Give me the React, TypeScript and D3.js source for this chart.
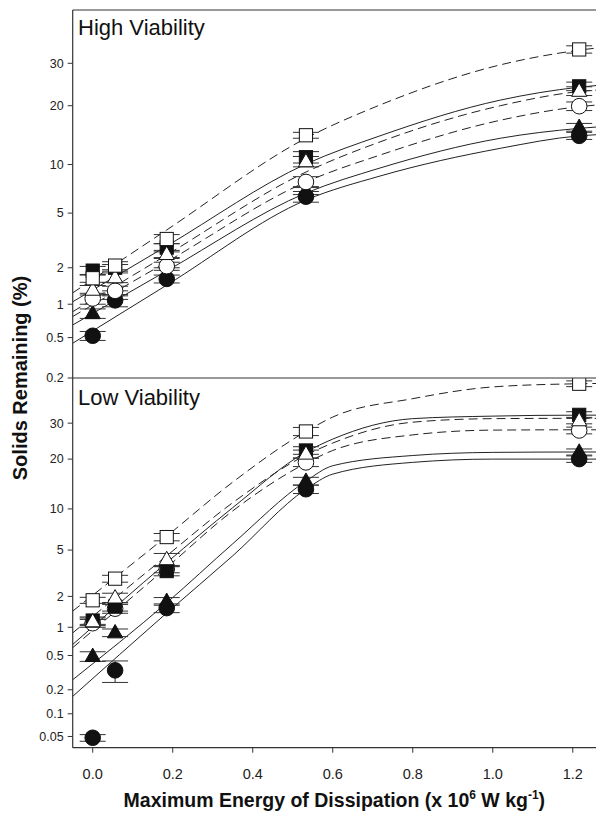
import React from "react";
import * as d3 from "d3";

// ---- data (percent solids remaining) ----
const xValues = [0, 0.056, 0.185, 0.533, 1.216];
const xTicks = [0, 0.2, 0.4, 0.6, 0.8, 1.0, 1.2];
const topTicks = [0.2, 0.5, 1, 2, 5, 10, 20, 30];
const bottomTicks = [0.05, 0.1, 0.2, 0.5, 1, 2, 5, 10, 20, 30];

// High viability points
const hiFilledCircle = [0.52, 1.08, 1.63, 6.4, 14.3];
const hiFilledTriangle = [0.83, 1.2, 2.2, 7.0, 15.8];
const hiOpenCircle = [1.12, 1.3, 2.06, 7.9, 19.9];
const hiFilledSquare = [1.9, 2.0, 2.85, 11.0, 24.3];
const hiOpenTriangle = [1.32, 1.67, 2.54, 10.4, 23.2];
const hiOpenSquare = [1.65, 2.08, 3.3, 14.4, 33.7];
// High viability error (+/-)
const hiErrFilledCircle = [0.05, 0.13, 0.12, 0.5, 0.6];
const hiErrFilledTriangle = [0.08, 0.1, 0.2, 0.4, 0.7];
const hiErrOpenCircle = [0.12, 0.12, 0.15, 0.6, 0.9];
const hiErrFilledSquare = [0.15, 0.12, 0.2, 0.8, 1.0];
const hiErrOpenTriangle = [0.12, 0.15, 0.18, 0.7, 1.0];
const hiErrOpenSquare = [0.12, 0.15, 0.25, 0.5, 1.0];

// Low viability points
const loFilledCircle = [0.048, 0.34, 1.55, 13.4, 20.0];
const loFilledTriangle = [0.49, 0.88, 1.8, 15.0, 21.8];
const loOpenCircle = [1.1, 1.53, 3.5, 19.2, 27.8];
const loFilledSquare = [1.17, 1.6, 3.36, 22.2, 32.6];
const loOpenTriangle = [1.14, 1.94, 4.2, 21.3, 30.8];
const loOpenSquare = [1.84, 2.89, 6.3, 27.5, 43.0];
const loErrFilledCircle = [0.005, 0.095, 0.15, 0.8, 0.8];
const loErrFilledTriangle = [0.06, 0.08, 0.15, 0.8, 0.8];
const loErrOpenCircle = [0.1, 0.15, 0.25, 1.0, 1.0];
const loErrFilledSquare = [0.1, 0.15, 0.3, 1.0, 1.0];
const loErrOpenTriangle = [0.1, 0.2, 0.5, 1.0, 1.0];
const loErrOpenSquare = [0.12, 0.2, 0.4, 1.2, 1.0];

// Fitted curves
const hiCurveX = [-0.05, 0.185, 0.533, 0.718, 1.019, 1.216, 1.26];
const hiCurveOpenSquare = [1.25, 3.83, 13.9, 20.15, 29.6, 33.5, 34.1];
const hiCurveFilledSquare = [1.05, 2.93, 10.07, 14.3, 21.2, 24.1, 24.5];
const hiCurveOpenTriangle = [0.86, 2.51, 9.05, 13.3, 20.0, 23.1, 23.45];
const hiCurveOpenCircle = [0.78, 2.22, 7.9, 11.3, 17.1, 19.8, 20.15];
const hiCurveFilledTriangle = [0.654, 1.89, 6.75, 9.55, 13.9, 15.6, 15.85];
const hiCurveFilledCircle = [0.442, 1.45, 6.09, 8.57, 12.3, 14.3, 14.5];

const loCurveX = [-0.05, 0.185, 0.35, 0.533, 0.6, 0.8, 1.0, 1.216, 1.26];
const loCurveOpenSquare = [1.45, 6.4, 14.8, 27.5, 31.9, 37.9, 41.9, 43.0, 43.1];
const loCurveFilledSquare = [0.66, 3.96, 10.2, 21.8, 25.3, 31.4, 32.2, 32.5, 32.5];
const loCurveOpenTriangle = [0.875, 4.5, 11.0, 21.0, 24.2, 30.3, 31.4, 31.5, 31.5];
const loCurveOpenCircle = [0.61, 3.6, 9.7, 19.0, 22.2, 26.5, 27.9, 28.0, 28.0];
const loCurveFilledTriangle = [0.264, 1.74, 5.6, 15.0, 18.4, 20.9, 21.7, 21.8, 21.8];
const loCurveFilledCircle = [0.166, 1.39, 4.5, 13.4, 16.5, 19.2, 20.0, 20.0, 20.0];

const markerKinds = ["filledCircle", "filledTriangle", "openCircle", "filledSquare", "openTriangle", "openSquare"];
const dashedKinds = ["openCircle", "openTriangle", "openSquare"];

const hiPoints = [hiFilledCircle, hiFilledTriangle, hiOpenCircle, hiFilledSquare, hiOpenTriangle, hiOpenSquare];
const hiErrs = [hiErrFilledCircle, hiErrFilledTriangle, hiErrOpenCircle, hiErrFilledSquare, hiErrOpenTriangle, hiErrOpenSquare];
const hiCurves = [hiCurveFilledCircle, hiCurveFilledTriangle, hiCurveOpenCircle, hiCurveFilledSquare, hiCurveOpenTriangle, hiCurveOpenSquare];
const loPoints = [loFilledCircle, loFilledTriangle, loOpenCircle, loFilledSquare, loOpenTriangle, loOpenSquare];
const loErrs = [loErrFilledCircle, loErrFilledTriangle, loErrOpenCircle, loErrFilledSquare, loErrOpenTriangle, loErrOpenSquare];
const loCurves = [loCurveFilledCircle, loCurveFilledTriangle, loCurveOpenCircle, loCurveFilledSquare, loCurveOpenTriangle, loCurveOpenSquare];

// inverse normal CDF (Acklam)
function probit(p: number): number {
  const a = [-39.69683028665376, 220.9460984245205, -275.9285104469687, 138.357751867269, -30.66479806614716, 2.506628277459239];
  const b = [-54.47609879822406, 161.5858368580409, -155.6989798598866, 66.80131188771972, -13.28068155288572];
  const c = [-0.007784894002430293, -0.3223964580411365, -2.400758277161838, -2.549732539343734, 4.374664141464968, 2.938163982698783];
  const d = [0.007784695709041462, 0.3224671290700398, 2.445134137142996, 3.754408661907416];
  const plow = 0.02425;
  if (p < plow) {
    const q = Math.sqrt(-2 * Math.log(p));
    return (((((c[0] * q + c[1]) * q + c[2]) * q + c[3]) * q + c[4]) * q + c[5]) / ((((d[0] * q + d[1]) * q + d[2]) * q + d[3]) * q + 1);
  }
  if (p <= 1 - plow) {
    const q = p - 0.5, r = q * q;
    return ((((((a[0] * r + a[1]) * r + a[2]) * r + a[3]) * r + a[4]) * r + a[5]) * q) / (((((b[0] * r + b[1]) * r + b[2]) * r + b[3]) * r + b[4]) * r + 1);
  }
  const q = Math.sqrt(-2 * Math.log(1 - p));
  return -(((((c[0] * q + c[1]) * q + c[2]) * q + c[3]) * q + c[4]) * q + c[5]) / ((((d[0] * q + d[1]) * q + d[2]) * q + d[3]) * q + 1);
}

const W = 596, H = 817;
const left = 72.7, right = 596;
const topY0 = 10, midY = 378, botY = 747.7;

const x = d3.scaleLinear().domain([-0.05, 1.258]).range([left, right]);
const hiLin = d3.scaleLinear().domain([probit(0.002), probit(0.45)]).range([midY, topY0]);
const loLin = d3.scaleLinear().domain([probit(0.00035), probit(0.45)]).range([botY, midY]);
const hiY = (v: number) => hiLin(probit(v / 100));
const loY = (v: number) => loLin(probit(v / 100));

const font = "'Liberation Sans', Arial, Helvetica, sans-serif";
const axisColor = "#333";

function Marker({ kind, cx, cy }: { kind: string; cx: number; cy: number }) {
  const filled = kind.startsWith("filled");
  const fill = filled ? "#111" : "#fff";
  const stroke = "#111";
  if (kind.endsWith("Circle")) return <circle cx={cx} cy={cy} r={7.8} fill={fill} stroke={stroke} strokeWidth={1} />;
  if (kind.endsWith("Square")) return <rect x={cx - 6.6} y={cy - 6.6} width={13.2} height={13.2} fill={fill} stroke={stroke} strokeWidth={1} />;
  const p = `M${cx},${cy - 8.2}L${cx + 7.6},${cy + 5.2}L${cx - 7.6},${cy + 5.2}Z`;
  return <path d={p} fill={fill} stroke={stroke} strokeWidth={1} />;
}

function Panel({ y, points, errs, curves, curveX, ticks, label, labelY, clipId, y0, y1 }: any) {
  const line = d3.line<[number, number]>().x((d) => d[0]).y((d) => d[1]).curve(d3.curveMonotoneX);
  return (
    <g>
      <defs>
        <clipPath id={clipId}>
          <rect x={left} y={y0} width={right - left} height={y1 - y0} />
        </clipPath>
      </defs>
      <g clipPath={`url(#${clipId})`}>
        {curves.map((cv: number[], i: number) => (
          <path
            key={"c" + i}
            d={line(cv.map((v, j) => [x(curveX[j]), y(v)]) as [number, number][]) || ""}
            fill="none"
            stroke="#222"
            strokeWidth={1}
            strokeDasharray={dashedKinds.includes(markerKinds[i]) ? "9,5" : undefined}
          />
        ))}
        {points.map((vals: number[], i: number) =>
          vals.map((v, j) => {
            const e = errs[i][j];
            const cx = x(xValues[j]);
            const ya = y(v + e), yb = y(Math.max(v - e, 0.0001));
            return (
              <g key={`e${i}-${j}`} stroke="#333" strokeWidth={1}>
                <line x1={cx} x2={cx} y1={ya} y2={yb} />
                <line x1={cx - 13} x2={cx + 13} y1={ya} y2={ya} />
                <line x1={cx - 13} x2={cx + 13} y1={yb} y2={yb} />
              </g>
            );
          })
        )}
        {points.map((vals: number[], i: number) =>
          vals.map((v, j) => <Marker key={`m${i}-${j}`} kind={markerKinds[i]} cx={x(xValues[j])} cy={y(v)} />)
        )}
      </g>
      {ticks.map((t: number) => (
        <g key={"t" + t}>
          <line x1={left - 5} x2={left} y1={y(t)} y2={y(t)} stroke={axisColor} strokeWidth={1} />
          <text x={left - 9} y={y(t)} dy="0.35em" textAnchor="end" fontSize={12.5} fontFamily={font} fill="#222">
            {String(t)}
          </text>
        </g>
      ))}
      <text x={78} y={labelY} fontSize={22} fontFamily={font} fill="#111">
        {label}
      </text>
    </g>
  );
}

export default function App() {
  return (
    <svg width={W} height={H} style={{ position: "absolute", left: 0, top: 0, background: "#fff" }}>
      <rect x={0} y={0} width={W} height={H} fill="#fff" />
      <Panel y={hiY} points={hiPoints} errs={hiErrs} curves={hiCurves} curveX={hiCurveX} ticks={topTicks}
        label="High Viability" labelY={35} clipId="clipHi" y0={topY0} y1={midY} />
      <Panel y={loY} points={loPoints} errs={loErrs} curves={loCurves} curveX={loCurveX} ticks={bottomTicks}
        label="Low Viability" labelY={405} clipId="clipLo" y0={midY} y1={botY} />
      {/* frame */}
      <line x1={left} x2={right} y1={topY0} y2={topY0} stroke={axisColor} strokeWidth={1.2} />
      <line x1={left} x2={right} y1={midY} y2={midY} stroke={axisColor} strokeWidth={1.2} />
      <line x1={left} x2={right} y1={botY} y2={botY} stroke={axisColor} strokeWidth={1.2} />
      <line x1={left} x2={left} y1={topY0} y2={botY} stroke={axisColor} strokeWidth={1.2} />
      {xTicks.map((t) => (
        <g key={"x" + t}>
          <line x1={x(t)} x2={x(t)} y1={botY} y2={botY + 5} stroke={axisColor} strokeWidth={1} />
          <text x={x(t)} y={botY + 31} textAnchor="middle" fontSize={14.5} fontFamily={font} fill="#222">
            {d3.format(".1f")(t)}
          </text>
        </g>
      ))}
      <text
        transform={`translate(27,378) rotate(-90)`}
        textAnchor="middle"
        fontSize={20}
        fontWeight="bold"
        fontFamily={font}
        fill="#111"
      >
        Solids Remaining (%)
      </text>
      <text x={(left + right) / 2} y={807} textAnchor="middle" fontSize={19.5} fontWeight="bold" fontFamily={font} fill="#111">
        Maximum Energy of Dissipation (x 10
        <tspan dy={-8} fontSize={12}>6</tspan>
        <tspan dy={8}> W kg</tspan>
        <tspan dy={-8} fontSize={12}>-1</tspan>
        <tspan dy={8}>)</tspan>
      </text>
    </svg>
  );
}
